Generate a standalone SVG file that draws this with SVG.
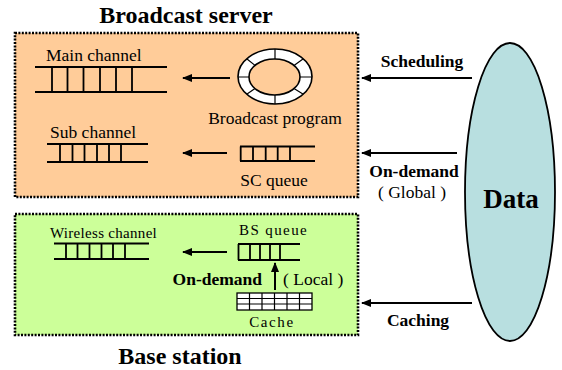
<svg xmlns="http://www.w3.org/2000/svg" width="562" height="370" viewBox="0 0 562 370">
<style>
text{font-family:"Liberation Serif","Times New Roman",serif;fill:#000}
.t{font-size:17.5px}
.b{font-size:17.5px;font-weight:bold}
.h{font-size:24px;font-weight:bold}
.s{font-size:15px}
.ln{stroke:#000;stroke-width:1.8;fill:none}
.th{stroke:#000;stroke-width:1.2;fill:none}
.box{stroke:#000;stroke-width:2.6;stroke-dasharray:2 1.4}
.arr{stroke:#000;stroke-width:2;fill:none;marker-end:url(#ah)}
</style>
<defs>
<marker id="ah" markerUnits="userSpaceOnUse" markerWidth="10" markerHeight="8" refX="9" refY="4" orient="auto">
<path d="M0,0 L10,4 L0,8 Z" fill="#000"/>
</marker>
</defs>
<rect width="562" height="370" fill="#fff"/>

<g id="broadcast-server">
<rect class="box" x="15" y="33" width="343" height="164" fill="#FFCC99"/>
<text class="h" x="186" y="23" text-anchor="middle">Broadcast server</text>
</g>

<g id="base-station">
<rect class="box" x="15" y="214" width="343" height="121" fill="#CCFF99"/>
<text class="h" x="180" y="364" text-anchor="middle">Base station</text>
</g>

<g id="main-channel">
<text class="t" x="46" y="61">Main channel</text>
<path class="ln" d="M35,67 H167 M35,92 H167 M52,67 V92 M67.5,67 V92 M83.5,67 V92 M100,67 V92 M116,67 V92 M132,67 V92"/>
</g>

<g id="sub-channel">
<text class="t" x="50" y="138">Sub channel</text>
<path class="ln" d="M47,144 H148 M47,162 H148 M60,144 V162 M72.5,144 V162 M84.5,144 V162 M97,144 V162 M109,144 V162 M121,144 V162"/>
</g>

<g id="broadcast-program">
<path fill="#fff" fill-rule="evenodd" stroke="#000" stroke-width="1.6" d="M238,76.5 a37,27.5 0 1,0 74,0 a37,27.5 0 1,0 -74,0 Z M249,77 a25.5,18 0 1,1 51,0 a25.5,18 0 1,1 -51,0 Z"/>
<path class="th" d="M275,49 V59 M275,95 V104 M238,77 H249 M300,77 H312 M294,65.4 L303.3,58.8 M294,88.6 L303.3,94.2 M255,65.4 L246.7,58.8 M255,88.6 L246.7,94.2"/>
<text class="t" x="275" y="124" text-anchor="middle">Broadcast program</text>
</g>

<g id="sc-queue">
<path class="ln" d="M240,146.5 H315 M240,161 H315 M240.7,146.5 V161 M253,146.5 V161 M265.7,146.5 V161 M277.7,146.5 V161 M290,146.5 V161"/>
<text class="t" x="274" y="186" text-anchor="middle">SC queue</text>
</g>

<g id="wireless-channel">
<text class="s" x="50" y="238" letter-spacing="0.3">Wireless channel</text>
<path class="ln" d="M54,243.5 H149 M54,259 H149 M66,243.5 V259 M77.5,243.5 V259 M89.5,243.5 V259 M101.5,243.5 V259 M113,243.5 V259 M125,243.5 V259"/>
</g>

<g id="bs-queue">
<text class="s" x="239" y="235" letter-spacing="1.4">BS queue</text>
<path class="ln" d="M238,244 H300 M238,260 H300 M238.5,244 V260 M250,244 V260 M260,244 V260 M270,244 V260 M280,244 V260"/>
</g>

<g id="cache">
<rect x="237" y="293" width="75" height="17" fill="#fff" stroke="#000" stroke-width="1.3"/>
<path class="th" d="M237,298.5 H312 M237,304 H312 M249.5,293 V310 M262,293 V310 M274.5,293 V310 M287,293 V310 M299.5,293 V310"/>
<text class="s" x="272" y="327" text-anchor="middle" letter-spacing="1.6">Cache</text>
</g>

<g id="data">
<ellipse cx="510" cy="192" rx="45" ry="149" fill="#B8DFE0" stroke="#000" stroke-width="1.8"/>
<text x="511" y="208" text-anchor="middle" style="font-size:27px;font-weight:bold">Data</text>
</g>

<g id="connectors">
<line class="arr" x1="230" y1="78" x2="183" y2="78"/>
<line class="arr" x1="227" y1="153" x2="183" y2="153"/>
<line class="arr" x1="227" y1="252" x2="183" y2="252"/>
<line class="arr" x1="275" y1="290" x2="275" y2="263"/>
<line class="arr" x1="472" y1="78" x2="362" y2="78"/>
<line class="arr" x1="457" y1="153" x2="362" y2="153"/>
<line class="arr" x1="472" y1="303" x2="362" y2="303"/>
<text class="b" x="422" y="67" text-anchor="middle">Scheduling</text>
<text class="b" x="414" y="177" text-anchor="middle">On-demand</text>
<text class="t" x="412" y="198" text-anchor="middle">( Global )</text>
<text class="b" x="418" y="326" text-anchor="middle">Caching</text>
<text class="b" x="262" y="285" text-anchor="end">On-demand</text>
<text class="t" x="283" y="285">( Local )</text>
</g>
</svg>
